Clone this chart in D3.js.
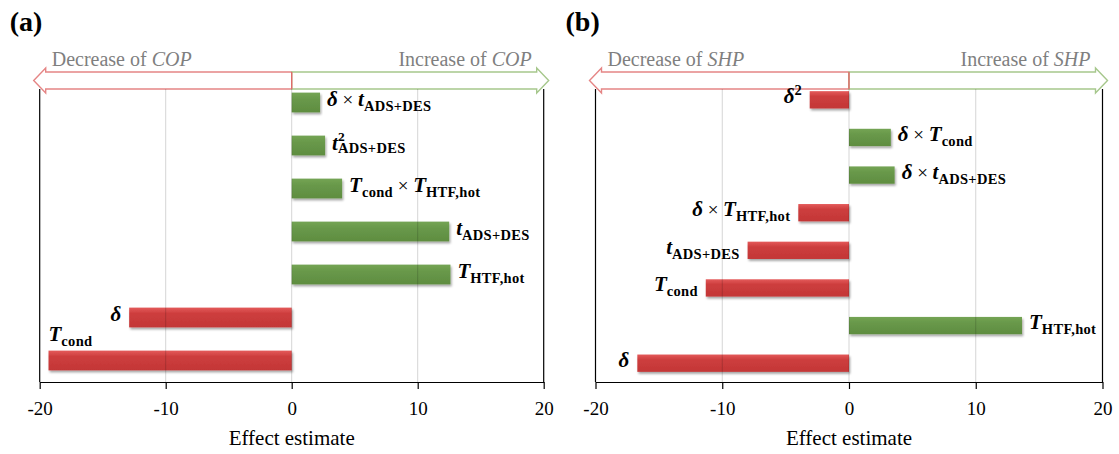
<!DOCTYPE html>
<html>
<head>
<meta charset="utf-8">
<script src="https://cdn.jsdelivr.net/npm/d3@7"></script>
<style>
  body { margin: 0; background: #fff; }
  svg { display: block; }
  svg text { font-family: "Liberation Serif", "Times New Roman", "DejaVu Serif", serif; }
</style>
</head>
<body>
<svg id="chart" width="1119" height="454"></svg>
<script>
// ---- Data ---------------------------------------------------------------
// Term labels are token lists: v = bold-italic variable, o = operator,
// sub / sup = sub- and superscripts, supsub = stacked superscript + subscript.
const copTerms = [
  [["v", "δ"], ["o", " × "], ["v", "t"], ["sub", "ADS+DES"]],
  [["v", "t"], ["supsub", "2", "ADS+DES"]],
  [["v", "T"], ["sub", "cond"], ["o", " × "], ["v", "T"], ["sub", "HTF,hot"]],
  [["v", "t"], ["sub", "ADS+DES"]],
  [["v", "T"], ["sub", "HTF,hot"]],
  [["v", "δ"]],
  [["v", "T"], ["sub", "cond"]]
];
const copEffects = [2.25, 2.65, 4.0, 12.5, 12.6, -12.9, -19.3];

const shpTerms = [
  [["v", "δ"], ["sup", "2"]],
  [["v", "δ"], ["o", " × "], ["v", "T"], ["sub", "cond"]],
  [["v", "δ"], ["o", " × "], ["v", "t"], ["sub", "ADS+DES"]],
  [["v", "δ"], ["o", " × "], ["v", "T"], ["sub", "HTF,hot"]],
  [["v", "t"], ["sub", "ADS+DES"]],
  [["v", "T"], ["sub", "cond"]],
  [["v", "T"], ["sub", "HTF,hot"]],
  [["v", "δ"]]
];
const shpEffects = [-3.1, 3.3, 3.6, -4.0, -8.0, -11.3, 13.65, -16.7];

const xTicks = [-20, -10, 0, 10, 20];
const xGrid = [-10, 0, 10];
const xDomain = [-20, 20];
const axisTitle = "Effect estimate";

const panels = [
  { tag: "(a)", response: "COP", terms: copTerms, effects: copEffects, left: 39.7, right: 543.7 },
  { tag: "(b)", response: "SHP", terms: shpTerms, effects: shpEffects, left: 595.5, right: 1102.5 }
];

// ---- Drawing --------------------------------------------------------------
const svg = d3.select("#chart");
const PLOT_TOP = 81, PLOT_BOTTOM = 382, FRAME_TOP = 89;
const VAR_SIZE = 21, SCRIPT_SIZE = 14.5, OP_SIZE = 19;

const defs = svg.append("defs");
const shadow = defs.append("filter").attr("id", "barShadow")
  .attr("x", "-5%").attr("y", "-30%").attr("width", "115%").attr("height", "180%");
shadow.append("feDropShadow").attr("dx", 1.2).attr("dy", 2)
  .attr("stdDeviation", 1.3).attr("flood-color", "#000").attr("flood-opacity", 0.35);

function gradient(id, stops) {
  const g = defs.append("linearGradient").attr("id", id)
    .attr("x1", 0).attr("y1", 0).attr("x2", 0).attr("y2", 1);
  stops.forEach(([o, c]) => g.append("stop").attr("offset", o).attr("stop-color", c));
}
gradient("gradPos", [[0, "#74a454"], [0.35, "#68984a"], [1, "#5f8d40"]]);
gradient("gradNeg", [[0, "#e45a5a"], [0.3, "#cd3e3e"], [1, "#c33636"]]);

function drawLabel(g, tokens, x, y, anchor) {
  const t = g.append("text")
    .attr("x", x).attr("y", y)
    .attr("text-anchor", anchor)
    .attr("fill", "#000");
  let shift = 0; // current baseline offset
  tokens.forEach(tok => {
    const [kind, a, b] = tok;
    if (kind === "v") {
      t.append("tspan").attr("dy", -shift).attr("font-size", VAR_SIZE)
        .attr("font-weight", "bold").attr("font-style", "italic").text(a);
      shift = 0;
    } else if (kind === "o") {
      t.append("tspan").attr("dy", -shift).attr("font-size", OP_SIZE)
        .attr("font-weight", "normal").attr("font-style", "normal").text(a);
      shift = 0;
    } else if (kind === "sub") {
      t.append("tspan").attr("dy", 5 - shift).attr("font-size", SCRIPT_SIZE)
        .attr("font-weight", "bold").attr("font-style", "normal")
        .attr("letter-spacing", 0.3).text(a);
      shift = 5;
    } else if (kind === "sup") {
      t.append("tspan").attr("dy", -8 - shift).attr("font-size", SCRIPT_SIZE)
        .attr("font-weight", "bold").attr("font-style", "normal").text(a);
      shift = -8;
    } else if (kind === "supsub") {
      const sp = t.append("tspan").attr("dy", -9 - shift).attr("font-size", 13.5)
        .attr("font-weight", "bold").attr("font-style", "normal").text(a);
      const w = sp.node().getComputedTextLength();
      t.append("tspan").attr("dx", -w).attr("dy", 12.5).attr("font-size", SCRIPT_SIZE)
        .attr("font-weight", "bold").attr("font-style", "normal")
        .attr("letter-spacing", 0.3).text(b);
      shift = 3.5;
    }
  });
  return t;
}

function arrowPath(x0, x1, yc) {
  // block arrow from x0 (flat end) to x1 (tip)
  const dir = Math.sign(x1 - x0);
  const bodyH = 8.5, headH = 12.5, headL = 12;
  const xb = x1 - dir * headL;
  return `M${x0},${yc - bodyH} L${xb},${yc - bodyH} L${xb},${yc - headH} L${x1},${yc} ` +
         `L${xb},${yc + headH} L${xb},${yc + bodyH} L${x0},${yc + bodyH} Z`;
}

panels.forEach(p => {
  const g = svg.append("g");
  const x = d3.scaleLinear().domain(xDomain).range([p.left, p.right]);
  const y = d3.scaleBand()
    .domain(d3.range(p.effects.length))
    .range([PLOT_TOP, PLOT_BOTTOM])
    .paddingInner(0.54).paddingOuter(0.27);

  // panel tag
  g.append("text").attr("x", p.left - 30).attr("y", 31)
    .attr("font-size", 28).attr("font-weight", "bold")
    .text(p.tag);

  // direction arrows
  const yc = 80.5, x0 = x(0);
  g.append("path").attr("d", arrowPath(x0, p.left - 6, yc))
    .attr("fill", "#fff").attr("stroke", "#e58585").attr("stroke-width", 1.4);
  g.append("path").attr("d", arrowPath(x0, p.right + 5, yc))
    .attr("fill", "#fff").attr("stroke", "#a6c78c").attr("stroke-width", 1.4);
  g.append("line").attr("x1", x0).attr("x2", x0).attr("y1", yc - 8.5).attr("y2", yc + 8.5)
    .attr("stroke", "#e06a6a").attr("stroke-width", 1.4);

  const dec = g.append("text").attr("x", p.left + 12).attr("y", 66)
    .attr("font-size", 20).attr("fill", "#7f7f7f");
  dec.append("tspan").text("Decrease of ");
  dec.append("tspan").attr("font-style", "italic").text(p.response);
  const inc = g.append("text").attr("x", p.right - 12).attr("y", 66).attr("text-anchor", "end")
    .attr("font-size", 20).attr("fill", "#7f7f7f");
  inc.append("tspan").text("Increase of ");
  inc.append("tspan").attr("font-style", "italic").text(p.response);

  // bars
  g.selectAll("rect.bar").data(p.effects).join("rect")
    .attr("class", "bar")
    .attr("x", d => x(Math.min(0, d)))
    .attr("width", d => Math.abs(x(d) - x(0)))
    .attr("y", (d, i) => y(i))
    .attr("height", y.bandwidth())
    .attr("fill", d => d >= 0 ? "url(#gradPos)" : "url(#gradNeg)")
    .attr("filter", "url(#barShadow)");

  // gridlines (drawn over the bars, translucent)
  g.selectAll("line.grid").data(xGrid).join("line")
    .attr("class", "grid")
    .attr("x1", d => x(d)).attr("x2", d => x(d))
    .attr("y1", FRAME_TOP).attr("y2", PLOT_BOTTOM)
    .attr("stroke", "#000").attr("stroke-opacity", 0.17).attr("stroke-width", 1);

  // frame sides
  [p.left, p.right].forEach(xx => {
    g.append("line").attr("x1", xx).attr("x2", xx).attr("y1", FRAME_TOP).attr("y2", PLOT_BOTTOM)
      .attr("stroke", "#000").attr("stroke-width", 1.2);
  });

  // bottom axis
  const ax = g.append("g").attr("transform", `translate(0,${PLOT_BOTTOM})`)
    .call(d3.axisBottom(x).tickValues(xTicks).tickSize(7).tickSizeOuter(0).tickFormat(d3.format("d")));
  ax.attr("font-family", null);
  ax.select(".domain").attr("stroke", "#000").attr("stroke-width", 1.2);
  ax.selectAll(".tick line").attr("stroke", "#000").attr("stroke-width", 1.2);
  ax.selectAll(".tick text").attr("font-size", 19)
    .attr("fill", "#000").attr("y", 20).attr("dy", "0.71em")
    .text(d => d < 0 ? "-" + Math.abs(d) : d);

  g.append("text").attr("x", x(0)).attr("y", 445).attr("text-anchor", "middle")
    .attr("font-size", 21).text(axisTitle);

  // term labels
  p.effects.forEach((v, i) => {
    const cy = y(i) + y.bandwidth() / 2;
    const supsub = p.terms[i].some(t => t[0] === "supsub");
    const base = cy + (supsub ? 4 : 3.5);
    if (v >= 0) {
      drawLabel(g, p.terms[i], x(v) + 7, base, "start");
    } else {
      const lab = drawLabel(g, p.terms[i], x(v) - 8, base, "end");
      const bb = lab.node().getBBox();
      if (bb.x < p.left + 2) {
        // not enough room beside the bar: put the label above it
        lab.remove();
        drawLabel(g, p.terms[i], x(v), y(i) - 10, "start");
      }
    }
  });
});
</script>
</body>
</html>
